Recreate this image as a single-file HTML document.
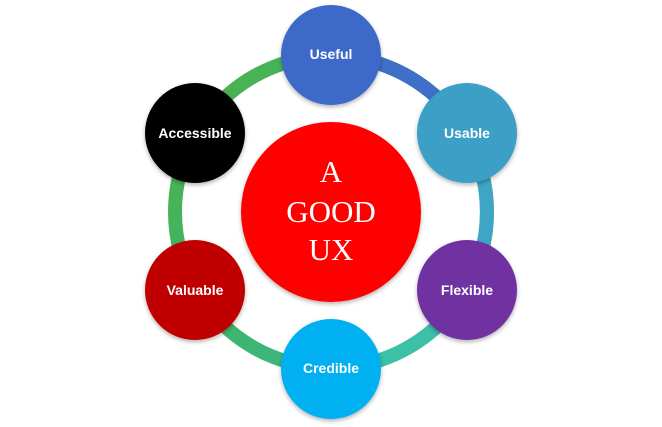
<!DOCTYPE html>
<html><head><style>
html,body{margin:0;padding:0;background:#fff;width:662px;height:427px;overflow:hidden}
</style></head><body>
<svg width="662" height="427" viewBox="0 0 662 427" xmlns="http://www.w3.org/2000/svg">
<defs>
<linearGradient id="rg" x1="0" y1="0" x2="1" y2="1">
<stop offset="0" stop-color="#4cb24a"/><stop offset="0.5" stop-color="#3fb46a"/><stop offset="1" stop-color="#3ab8a8"/>
</linearGradient>
<filter id="sh" x="-20%" y="-20%" width="140%" height="140%"><feDropShadow dx="0" dy="2" stdDeviation="2" flood-opacity="0.3"/></filter>
</defs>
<circle cx="331" cy="212" r="156" fill="none" stroke="url(#rg)" stroke-width="14"/>
<path d="M331 56 A156 156 0 0 1 466 134" fill="none" stroke="#3f6fc6" stroke-width="14"/>
<path d="M466 134 A156 156 0 0 1 466 290" fill="none" stroke="#3ea6c4" stroke-width="14"/>
<path d="M466 290 A156 156 0 0 1 331 368" fill="none" stroke="#3cc0a6" stroke-width="14"/>
<g filter="url(#sh)">
<circle cx="331" cy="212" r="90" fill="#ff0000"/>
<circle cx="331" cy="55" r="50" fill="#3d6ac8"/>
<circle cx="467" cy="133" r="50" fill="#3a9fc6"/>
<circle cx="467" cy="290" r="50" fill="#7030a0"/>
<circle cx="331" cy="369" r="50" fill="#00b0f0"/>
<circle cx="195" cy="290" r="50" fill="#c00000"/>
<circle cx="195" cy="133" r="50" fill="#000"/>
</g>
<g font-family="Liberation Serif, serif" font-size="31" fill="#fff" text-anchor="middle">
<text x="331" y="182">A</text>
<text x="331" y="222">GOOD</text>
<text x="331" y="260">UX</text>
</g>
<g font-family="Liberation Sans, sans-serif" font-size="14" font-weight="bold" fill="#fff" text-anchor="middle">
<text x="331" y="59">Useful</text>
<text x="467" y="138">Usable</text>
<text x="467" y="295">Flexible</text>
<text x="331" y="373">Credible</text>
<text x="195" y="295">Valuable</text>
<text x="195" y="138">Accessible</text>
</g>
</svg>
</body></html>
